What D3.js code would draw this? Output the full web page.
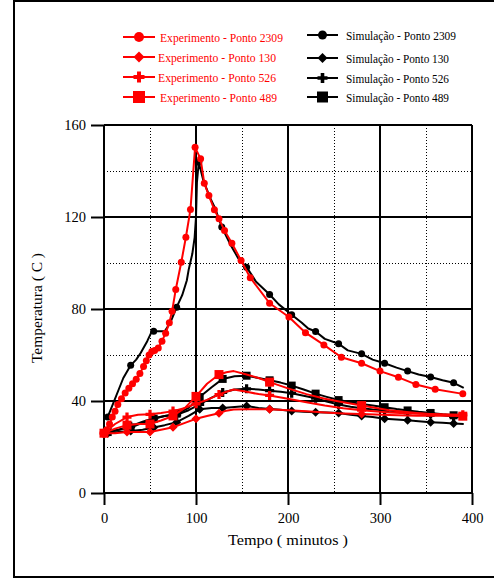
<!DOCTYPE html>
<html>
<head>
<meta charset="utf-8">
<script src="https://cdn.jsdelivr.net/npm/d3@7"></script>
<style>
  body { margin: 0; background: #fff; }
  svg { display: block; }
  text { font-family: "Liberation Serif", "Times New Roman", serif; }
</style>
</head>
<body>
<svg id="chart" width="494" height="579"></svg>
<script>
// ---- data: time (minutes) and temperature (C) ----
const exp2309Time = [0, 3, 6, 9, 12, 15, 19, 23, 27, 31, 35, 39, 43, 46, 49, 52, 55, 59, 63, 67, 71, 74, 78, 84, 89, 94, 99, 105, 109, 114, 120, 125, 131, 139, 149, 159, 180, 201, 219, 239, 258, 280, 300, 320, 339, 360, 390];
const exp2309Temp = [26, 27.5, 30, 33, 35.5, 38.5, 41, 43.5, 45.5, 47.5, 49.5, 52, 55, 57.5, 60, 61.5, 62, 63, 66, 69.5, 74, 79, 88.5, 100.3, 111.2, 123.3, 150.3, 145.3, 134.7, 129.3, 123.1, 119.2, 114.1, 108.6, 101.1, 93.6, 82.5, 76.5, 69.7, 64.4, 59, 56.4, 53, 50.3, 47.2, 45.1, 43.1];
const exp2309Marks = exp2309Time.slice(1);

const sim2309Time = [4, 10, 16, 21, 29, 35, 40, 47, 52, 54, 66, 72, 79, 85, 90, 92, 96, 98.5, 100, 101, 103, 106, 108, 115, 121, 128, 137, 146, 155, 165, 180, 190, 204, 215, 222, 230, 240, 255, 265, 280, 292, 305, 318, 330, 342, 355, 368, 380, 391];
const sim2309Temp = [33, 39, 45, 50, 55.5, 58, 61, 66, 70.3, 70.3, 70.3, 74, 80.8, 86, 92.4, 97, 104, 111, 120, 135, 143.8, 139, 135.9, 128.6, 123.6, 115.6, 108.3, 102, 98.2, 92, 86.3, 82, 77.5, 74, 71.5, 70.2, 67, 64.9, 62, 60.5, 58, 56.4, 54.5, 53, 51.5, 50.4, 49, 47.9, 45.7];
const sim2309Marks = [4, 29, 54, 79, 103, 128, 155, 180, 204, 230, 255, 280, 305, 330, 355, 380];

const exp130Time = [0, 12, 25, 37, 50, 62, 75, 88, 100, 112, 125, 133, 141, 155, 168, 180, 200, 220, 240, 260, 280, 310, 340, 365, 390];
const exp130Temp = [26, 26, 26.5, 26.5, 26.5, 27.5, 28.6, 30.5, 32.3, 33.5, 34.7, 35.8, 36.3, 36.4, 36.4, 36.4, 36, 35.5, 35, 34.6, 34.3, 33.9, 33.6, 33.6, 33.6];
const exp130Marks = [0, 25, 50, 75, 100, 125, 180, 280, 390];

const sim130Time = [0, 4, 16, 29, 42, 54, 66, 79, 92, 104, 117, 129, 142, 155, 168, 180, 192, 204, 217, 230, 242, 255, 268, 280, 292, 305, 318, 330, 342, 355, 368, 380, 391];
const sim130Temp = [26, 26, 26.5, 27, 27.5, 28.5, 29.5, 30.8, 33.5, 36.4, 37, 37, 37.4, 37.8, 37, 36.5, 36.2, 35.6, 35.3, 35.1, 35, 34.8, 34, 33.5, 33, 32.3, 32, 31.6, 31.2, 30.8, 30.5, 30.2, 30];
const sim130Marks = [4, 29, 54, 79, 104, 129, 155, 180, 204, 230, 255, 280, 305, 330, 355, 380];

const exp526Time = [0, 12, 25, 37, 50, 62, 75, 88, 100, 112, 125, 133, 141, 155, 168, 180, 200, 220, 240, 260, 280, 310, 340, 365, 390];
const exp526Temp = [26, 30, 33, 34, 34.2, 34.8, 35.6, 37, 38.8, 40.5, 42.8, 44, 45, 44, 43, 42.4, 41, 39.5, 38, 36.8, 36, 35, 34.5, 34.2, 34];
const exp526Marks = [0, 25, 50, 75, 100, 125, 180, 280, 390];

const sim526Time = [0, 4, 16, 29, 42, 54, 66, 79, 92, 104, 117, 129, 142, 155, 168, 180, 192, 204, 217, 230, 242, 255, 268, 280, 292, 305, 318, 330, 342, 355, 368, 380, 391];
const sim526Temp = [26, 26.5, 27.5, 29, 31, 32.5, 33.5, 34, 36, 38.5, 41.5, 43.7, 45, 45.3, 45, 44.5, 44, 43.4, 42.3, 41.2, 39.8, 38.5, 37.5, 36.8, 36.3, 36, 35.5, 35.2, 34.8, 34.3, 33.8, 33.3, 33];
const sim526Marks = [4, 29, 54, 79, 104, 129, 155, 180, 204, 230, 255, 280, 305, 330, 355, 380];

const exp489Time = [0, 12, 25, 37, 50, 62, 75, 88, 100, 112, 125, 133, 141, 155, 168, 180, 200, 220, 240, 260, 280, 310, 340, 365, 390];
const exp489Temp = [26, 28, 29.5, 30, 30, 31.5, 33.5, 37, 42, 47.5, 51.5, 52.5, 53, 51.5, 50, 48.2, 45.5, 43, 41, 39.5, 38, 36, 34.8, 34, 33.4];
const exp489Marks = [0, 25, 50, 75, 100, 125, 180, 280, 390];

const sim489Time = [0, 4, 16, 29, 42, 54, 66, 79, 92, 104, 117, 129, 142, 155, 168, 180, 192, 204, 217, 230, 242, 255, 268, 280, 292, 305, 318, 330, 342, 355, 368, 380, 391];
const sim489Temp = [26, 26.5, 27.5, 28.5, 30.5, 32.3, 33.5, 34.5, 37, 41.7, 46, 49.6, 50.8, 51, 50, 49, 48, 46.7, 45, 43.2, 41.8, 40.4, 39.5, 38.7, 38, 37.3, 36.5, 35.9, 35.3, 34.8, 34.2, 33.8, 33.3];
const sim489Marks = [4, 29, 54, 79, 104, 129, 155, 180, 204, 230, 255, 280, 305, 330, 355, 380];

const xTicks = [0, 100, 200, 300, 400];
const xMinor = [50, 150, 250, 350];
const yTicks = [0, 40, 80, 120, 160];
const yMinor = [20, 60, 100, 140];

const expLabels = ["Experimento - Ponto 2309", "Experimento - Ponto 130", "Experimento - Ponto 526", "Experimento - Ponto 489"];
const simLabels = ["Simulação - Ponto 2309", "Simulação - Ponto 130", "Simulação - Ponto 526", "Simulação - Ponto 489"];

// ---- layout ----
const svg = d3.select("#chart");
const plot = { left: 104, right: 472, top: 125, bottom: 493 };
const x = d3.scaleLinear().domain([0, 400]).range([plot.left, plot.right]);
const y = d3.scaleLinear().domain([0, 160]).range([plot.bottom, plot.top]);
const RED = "#ff0000", BLACK = "#000000";

// outer frame
svg.append("rect")
  .attr("x", 14).attr("y", 1).attr("width", 500).attr("height", 576)
  .attr("fill", "none").attr("stroke", "#000").attr("stroke-width", 2);

// dotted minor grid (pixel-snapped so the dots stay dark)
const grid = svg.append("g").attr("shape-rendering", "crispEdges");
grid.selectAll(".vmin").data(xMinor).join("line")
  .attr("x1", d => Math.round(x(d)) + 0.5).attr("x2", d => Math.round(x(d)) + 0.5)
  .attr("y1", plot.top).attr("y2", plot.bottom)
  .attr("stroke", "#000").attr("stroke-width", 1).attr("stroke-dasharray", "1,2");
grid.selectAll(".hmin").data(yMinor).join("line")
  .attr("y1", d => Math.round(y(d)) + 0.5).attr("y2", d => Math.round(y(d)) + 0.5)
  .attr("x1", plot.left).attr("x2", plot.right)
  .attr("stroke", "#000").attr("stroke-width", 1).attr("stroke-dasharray", "1,2");

// solid major grid
const major = svg.append("g");
major.selectAll(".vmaj").data(xTicks).join("line")
  .attr("x1", d => x(d)).attr("x2", d => x(d))
  .attr("y1", plot.top).attr("y2", plot.bottom)
  .attr("stroke", "#000").attr("stroke-width", 2);
major.selectAll(".hmaj").data(yTicks).join("line")
  .attr("y1", d => y(d)).attr("y2", d => y(d))
  .attr("x1", plot.left).attr("x2", plot.right)
  .attr("stroke", "#000").attr("stroke-width", 2);

// axes
const xAxis = d3.axisBottom(x).tickValues(xTicks).tickSize(12).tickPadding(8).tickFormat(d3.format("d"));
const yAxis = d3.axisLeft(y).tickValues(yTicks).tickSize(13).tickPadding(5).tickFormat(d3.format("d"));
const gx = svg.append("g").attr("transform", `translate(0,${plot.bottom})`).call(xAxis);
const gy = svg.append("g").attr("transform", `translate(${plot.left},0)`).call(yAxis);
[gx, gy].forEach(g => {
  g.attr("font-family", null);
  g.select(".domain").remove();
  g.selectAll(".tick line").attr("stroke", "#000").attr("stroke-width", 2);
  g.selectAll(".tick text").attr("fill", "#000")
    .style("font-family", '"Liberation Serif", serif').style("font-size", "14.5px");
});

// axis titles
svg.append("text").attr("x", 288).attr("y", 545).attr("text-anchor", "middle")
  .style("font-size", "15px").attr("textLength", 120).attr("lengthAdjust", "spacingAndGlyphs")
  .text("Tempo ( minutos )");
svg.append("text").attr("transform", "translate(42,308) rotate(-90)").attr("text-anchor", "middle")
  .style("font-size", "15px").attr("textLength", 110).attr("lengthAdjust", "spacingAndGlyphs")
  .text("Temperatura ( C )");

// marker shapes
const diamond = { draw(ctx, s) { const r = Math.sqrt(s) / 2; ctx.moveTo(0, -r); ctx.lineTo(r, 0); ctx.lineTo(0, r); ctx.lineTo(-r, 0); ctx.closePath(); } };
const plus = { draw(ctx, s) { const r = Math.sqrt(s) / 2, w = r * 0.36;
  ctx.moveTo(-w, -r); ctx.lineTo(w, -r); ctx.lineTo(w, -w); ctx.lineTo(r, -w); ctx.lineTo(r, w); ctx.lineTo(w, w);
  ctx.lineTo(w, r); ctx.lineTo(-w, r); ctx.lineTo(-w, w); ctx.lineTo(-r, w); ctx.lineTo(-r, -w); ctx.lineTo(-w, -w); ctx.closePath(); } };
const square = { draw(ctx, s) { const r = Math.sqrt(s) / 2; ctx.rect(-r, -r, 2 * r, 2 * r); } };
const circle = { draw(ctx, s) { const r = Math.sqrt(s) / 2; ctx.moveTo(r, 0); ctx.arc(0, 0, r, 0, 2 * Math.PI); } };

const series = [
  { t: sim2309Time, v: sim2309Temp, marks: sim2309Marks, color: BLACK, shape: circle, size: 7 },
  { t: sim130Time, v: sim130Temp, marks: sim130Marks, color: BLACK, shape: diamond, size: 9 },
  { t: sim526Time, v: sim526Temp, marks: sim526Marks, color: BLACK, shape: plus, size: 9 },
  { t: sim489Time, v: sim489Temp, marks: sim489Marks, color: BLACK, shape: square, size: 8 },
  { t: exp130Time, v: exp130Temp, marks: exp130Marks, color: RED, shape: diamond, size: 9 },
  { t: exp526Time, v: exp526Temp, marks: exp526Marks, color: RED, shape: plus, size: 9 },
  { t: exp489Time, v: exp489Temp, marks: exp489Marks, color: RED, shape: square, size: 9 },
  { t: exp2309Time, v: exp2309Temp, marks: exp2309Marks, color: RED, shape: circle, size: 7 }
];

const line = d3.line().x(d => x(d[0])).y(d => y(d[1]));
const marks = svg.append("g");
series.forEach(s => {
  const pts = s.t.map((t, i) => [t, s.v[i]]);
  marks.append("path").datum(pts).attr("d", line)
    .attr("fill", "none").attr("stroke", s.color).attr("stroke-width", 2).attr("stroke-linejoin", "round");
  const sym = d3.symbol().type(s.shape).size(s.size * s.size);
  marks.selectAll(null).data(pts.filter(p => s.marks.includes(p[0]))).join("path")
    .attr("transform", p => `translate(${x(p[0])},${y(p[1])})`)
    .attr("d", sym).attr("fill", s.color);
});

// legend
const legendShapes = [circle, diamond, plus, square];
const legendSizes = [10, 11, 11, 12];
const expRowsY = [37, 57, 77, 97];
const simRowsY = [35, 58, 78, 97];
const expTextLen = [123, 118, 118, 117];
const simTextLen = [110, 103, 103, 103];
const legend = svg.append("g");
function legendItem(label, color, shape, size, lx0, lx1, ty, tx, tl) {
  const g = legend.append("g");
  g.append("line").attr("x1", lx0).attr("x2", lx1).attr("y1", ty).attr("y2", ty)
    .attr("stroke", color).attr("stroke-width", 2);
  g.append("path").attr("transform", `translate(${(lx0 + lx1) / 2},${ty})`)
    .attr("d", d3.symbol().type(shape).size(size * size)).attr("fill", color);
  g.append("text").attr("x", tx).attr("y", ty + 4.5).attr("fill", color)
    .style("font-size", "13px").attr("textLength", tl).attr("lengthAdjust", "spacingAndGlyphs")
    .text(label);
}
expLabels.forEach((lab, i) => legendItem(lab, RED, legendShapes[i], legendSizes[i], 123, 155, expRowsY[i], i === 0 || i === 3 ? 160 : 158, expTextLen[i]));
simLabels.forEach((lab, i) => legendItem(lab, BLACK, legendShapes[i], legendSizes[i] - 1, 307, 338, simRowsY[i], 346, simTextLen[i]));
</script>
</body>
</html>
